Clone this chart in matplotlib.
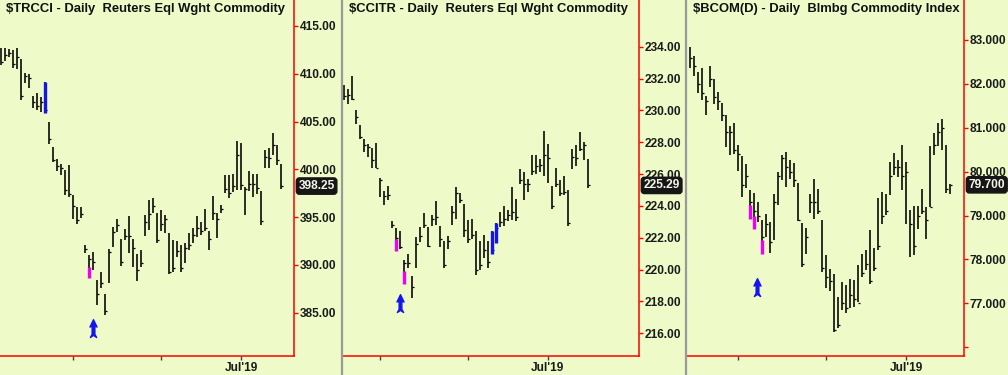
import matplotlib
matplotlib.use("Agg")
import numpy as np
from matplotlib import pyplot as plt
from matplotlib.path import Path
from matplotlib.lines import Line2D

plt.rcParams['font.family'] = ['Liberation Sans', 'DejaVu Sans']

BG = "#EEFAC8"
RED = "#FF0000"
BLUE = "#1414F0"
PINK = "#F000F0"

# ---- $TRCCI ----
trcci_title = "$TRCCI - Daily  Reuters Eql Wght Commodity"
trcci_high = [412.7, 412.7, 412.6, 412.5, 412.7, 411.5, 410.1, 410.0, 407.7, 408.0,
              407.6, 409.1, 405.0, 402.3, 401.1, 400.6, 399.9, 400.5, 397.3, 396.1,
              396.1, 392.1, 391.0, 391.4, 388.4, 389.3, 387.0, 391.7, 394.0, 394.8,
              392.7, 393.8, 395.1, 392.7, 391.1, 391.6, 395.2, 396.8, 397.0, 395.4,
              395.7, 395.2, 393.3, 392.6, 392.5, 392.1, 392.3, 393.3, 393.9, 395.1,
              394.5, 395.9, 393.5, 397.2, 395.4, 396.3, 399.4, 399.4, 399.5, 403.0,
              402.8, 398.2, 399.8, 399.5, 399.5, 397.7, 402.0, 402.2, 403.8, 402.6, 400.6]
trcci_low = [410.9, 411.3, 411.8, 410.6, 410.5, 407.3, 409.0, 408.5, 406.4, 406.2,
             406.0, 405.9, 402.7, 400.8, 399.8, 399.4, 397.3, 397.1, 394.8, 394.3,
             394.9, 391.2, 388.6, 389.5, 385.8, 387.6, 384.8, 388.1, 391.9, 393.4,
             389.9, 392.6, 391.2, 389.8, 388.3, 389.8, 393.0, 393.7, 395.4, 392.3,
             393.5, 393.3, 389.0, 389.3, 390.8, 389.3, 390.2, 391.6, 392.3, 392.9,
             393.1, 393.5, 391.6, 394.7, 392.8, 395.4, 397.5, 397.0, 397.6, 397.8,
             397.8, 395.2, 397.7, 397.1, 397.4, 394.2, 400.1, 400.1, 401.5, 400.5, 397.9]
trcci_close = [411.2, 412.0, 412.2, 411.0, 411.8, 407.7, 409.8, 409.6, 407.0, 406.6,
               407.0, 406.2, 403.2, 401.0, 400.4, 400.1, 397.8, 397.4, 396.2, 394.7,
               395.3, 391.7, 390.6, 390.3, 387.0, 388.1, 385.2, 391.3, 393.4, 394.2,
               390.3, 393.0, 393.0, 391.8, 389.5, 390.2, 394.5, 395.3, 396.2, 392.6,
               394.3, 394.8, 389.3, 389.7, 391.5, 389.7, 391.8, 392.1, 393.1, 393.9,
               393.5, 393.9, 392.7, 395.4, 394.8, 395.9, 397.9, 397.5, 398.3, 401.5,
               398.4, 397.9, 398.5, 398.5, 398.0, 394.6, 401.3, 401.2, 402.6, 401.0, 398.25]
trcci_marks = [(11, 409.1, 405.9, BLUE), (22, 389.8, 388.6, PINK)]
trcci_arrow = (23, 383.45)
trcci_yticks = [385, 390, 395, 400, 405, 410, 415]
trcci_xticks = [18, 40, 60]

# ---- $CCITR ----
ccitr_title = "$CCITR - Daily  Reuters Eql Wght Commodity"
ccitr_high = [231.58, 231.37, 232.15, 230.05, 229.06, 228.22, 227.91, 227.66, 227.95, 225.76,
              224.92, 225.28, 223.03, 222.61, 222.40, 220.60, 220.97, 219.61, 222.03, 222.70,
              223.54, 222.66, 223.45, 224.34, 222.76, 221.81, 222.09, 224.02, 225.22, 224.80,
              224.13, 223.12, 223.18, 222.40, 221.81, 222.19, 221.77, 222.40, 222.91, 223.60,
              224.02, 223.75, 225.18, 224.44, 226.33, 226.12, 225.70, 227.17, 227.17, 226.96,
              228.68, 227.91, 225.28, 226.39, 225.64, 225.91, 225.01, 227.59, 227.80, 228.64,
              228.01, 226.96]
ccitr_low = [230.64, 230.43, 230.68, 229.17, 228.22, 227.38, 227.07, 226.39, 226.39, 224.59,
             224.06, 224.38, 222.61, 221.18, 221.29, 219.08, 220.13, 218.24, 220.13, 221.71,
             222.61, 221.39, 222.76, 222.82, 221.39, 220.13, 221.29, 222.82, 223.18, 224.17,
             222.03, 221.65, 221.92, 219.67, 219.97, 220.72, 220.13, 221.0, 221.71, 222.70,
             222.76, 223.08, 223.12, 223.08, 225.39, 224.38, 224.86, 225.97, 226.01, 226.12,
             225.91, 225.43, 223.81, 225.18, 224.65, 224.71, 222.76, 226.33, 226.54, 227.45,
             226.86, 225.13]
ccitr_close = [230.9, 231.0, 230.7, 229.6, 228.3, 227.8, 227.7, 226.9, 226.4, 225.6,
               224.6, 224.7, 222.8, 222.0, 221.4, 220.4, 220.4, 218.9, 221.6, 222.1,
               222.8, 221.5, 223.2, 223.3, 221.9, 220.3, 221.8, 223.6, 224.8, 224.4,
               222.5, 221.9, 222.2, 220.0, 220.3, 221.2, 220.5, 221.2, 222.6, 223.0,
               223.2, 223.4, 223.6, 223.3, 225.6, 225.4, 225.4, 226.2, 226.5, 226.6,
               227.2, 227.0, 224.0, 225.4, 224.8, 224.9, 222.9, 227.1, 227.0, 227.6,
               227.8, 225.29]
ccitr_marks = [(13, 221.9, 221.18, PINK), (15, 219.92, 219.08, PINK),
               (37, 222.4, 221.0, BLUE), (38, 222.9, 221.7, BLUE)]
ccitr_arrow = (14, 217.87)
ccitr_yticks = [216, 218, 220, 222, 224, 226, 228, 230, 232, 234]
ccitr_xticks = [9, 31, 51]

# ---- $BCOM ----
bcom_title = "$BCOM(D) - Daily  Blmbg Commodity Index"
bcom_high = [82.83, 82.63, 82.28, 82.35, 81.72, 82.41, 82.10, 81.82, 81.57, 81.29,
             81.04, 81.11, 80.60, 80.35, 80.17, 79.59, 79.51, 79.31, 78.90, 79.04,
             78.85, 79.50, 79.99, 80.37, 80.45, 80.27, 80.20, 79.74, 78.83, 78.72,
             79.48, 79.84, 79.61, 78.89, 78.09, 77.78, 77.67, 77.14, 77.48, 77.42,
             77.55, 77.53, 77.88, 78.13, 78.22, 78.66, 78.26, 79.41, 79.53, 79.50,
             80.22, 80.43, 80.26, 80.60, 80.22, 79.12, 79.21, 79.21, 79.61, 79.19,
             80.58, 80.88, 81.10, 81.19, 80.60, 79.71]
bcom_low = [82.35, 82.18, 81.80, 81.64, 81.29, 81.92, 81.54, 81.40, 81.16, 80.56,
            80.37, 80.40, 80.01, 79.42, 79.63, 78.93, 78.70, 78.85, 78.13, 78.51,
            78.14, 78.45, 79.25, 79.82, 79.65, 79.84, 79.66, 78.87, 77.82, 78.13,
            79.05, 78.93, 79.04, 77.71, 77.35, 77.29, 76.34, 76.43, 76.85, 76.77,
            76.89, 76.91, 77.04, 77.59, 77.76, 77.44, 77.74, 78.22, 78.81, 79.02,
            79.46, 79.92, 79.88, 79.59, 78.81, 78.05, 78.11, 78.70, 79.04, 78.47,
            79.19, 80.37, 80.58, 80.50, 79.51, 79.48]
bcom_close = [82.6, 82.4, 82.0, 81.8, 81.6, 82.1, 81.7, 81.6, 81.3, 80.9,
              80.9, 80.5, 80.4, 79.7, 79.9, 79.3, 79.1, 79.0, 78.5, 78.8,
              78.4, 79.3, 79.9, 80.3, 80.1, 80.0, 79.8, 78.9, 77.9, 78.5,
              79.3, 79.3, 79.1, 77.8, 77.6, 77.5, 76.4, 76.5, 77.0, 76.9,
              77.2, 77.1, 77.0, 77.7, 77.9, 77.5, 77.8, 78.3, 79.0, 79.1,
              79.9, 80.1, 80.1, 79.9, 80.0, 78.8, 78.3, 79.0, 79.1, 78.9,
              79.2, 80.6, 80.9, 81.0, 79.6, 79.70]
bcom_marks = [(15, 79.25, 78.93, PINK), (16, 79.0, 78.7, PINK), (18, 78.45, 78.13, PINK)]
bcom_arrow = (16.8, 77.37)
bcom_yticks = [76, 77, 78, 79, 80, 81, 82, 83]
bcom_xticks = [12, 34, 54]

month_labels = ["", "", "Jul'19"]

# arrow marker: head, shaft and forked tail
arrow_path = Path([(0, 9), (3.6, 1.5), (1.4, 2.2), (1.4, -6), (3.2, -9.2), (0, -7),
                   (-3.2, -9.2), (-1.4, -6), (-1.4, 2.2), (-3.6, 1.5), (0, 9)],
                  closed=True)

W, H = 1008, 375
fig = plt.figure(figsize=(W / 100, H / 100), dpi=100, facecolor=BG)


def draw_panel(left, right, title, high, low, close, marks, arrow, yticks, ylim,
               xticks, xlim, fmt, hidden_ticks=()):
    ax = fig.add_axes([left / W, 19 / H, (right - left) / W, 356 / H])
    ax.set_facecolor(BG)
    x = np.arange(len(high))
    ax.vlines(x, low, high, color="black", lw=1.15)
    ax.hlines(close, x, x + 0.5, color="black", lw=0.9)
    for i, top, bot, col in marks:
        ax.vlines(i, bot, top, color=col, lw=2.4, zorder=3)
    ax.plot(arrow[0], arrow[1], marker=arrow_path, markersize=13, color=BLUE,
            markeredgecolor=BLUE, zorder=4)
    ax.set_xlim(*xlim)
    ax.set_ylim(*ylim)
    for s in ("left", "top"):
        ax.spines[s].set_visible(False)
    for s in ("right", "bottom"):
        ax.spines[s].set_color(RED)
        ax.spines[s].set_linewidth(1.1)
    ax.yaxis.tick_right()
    ax.set_yticks(yticks)
    ax.set_yticklabels(["" if t in hidden_ticks else fmt.format(t) for t in yticks])
    ax.tick_params(axis="y", colors=RED, labelcolor="#1a1a1a", length=3.2, width=1,
                   pad=1, labelsize=8.6)
    ax.set_xticks(xticks)
    ax.set_xticklabels(month_labels)
    ax.tick_params(axis="x", colors="#444444", labelcolor="#1a1a1a", length=3,
                   width=1, pad=1.5, labelsize=8.6)
    for lab in ax.get_yticklabels() + ax.get_xticklabels():
        lab.set_fontweight("bold")
    t = ax.annotate(title, xy=(0, 1), xycoords="axes fraction", xytext=(4, -2),
                    textcoords="offset points", ha="left", va="top",
                    fontsize=9.4, fontweight="bold", color="#111111")
    t.set_clip_on(True)
    ax.annotate(fmt.format(close[-1]), xy=(1, close[-1]),
                xycoords=ax.get_yaxis_transform(), xytext=(3.2, 0),
                textcoords="offset points", ha="left", va="center",
                fontsize=8.6, fontweight="bold", color="#F4F4E8",
                bbox=dict(boxstyle="round,pad=0.18,rounding_size=0.25",
                          fc="#161616", ec="#161616"),
                annotation_clip=False, zorder=5)
    return ax


draw_panel(0, 294, trcci_title, trcci_high, trcci_low, trcci_close, trcci_marks,
           trcci_arrow, trcci_yticks, (380.47, 417.72), trcci_xticks, (-0.33, 73.17),
           "{:.2f}")
draw_panel(343, 639, ccitr_title, ccitr_high, ccitr_low, ccitr_close, ccitr_marks,
           ccitr_arrow, ccitr_yticks, (214.57, 236.94), ccitr_xticks, (-0.17, 73.83),
           "{:.2f}")
draw_panel(687, 964, bcom_title, bcom_high, bcom_low, bcom_close, bcom_marks,
           bcom_arrow, bcom_yticks, (75.80, 83.91), bcom_xticks, (-0.75, 68.5),
           "{:.3f}", hidden_ticks=(76,))

for xd in (341.5, 685.5):
    fig.add_artist(Line2D([xd / W, xd / W], [0, 1], transform=fig.transFigure,
                          color="#9a9a9a", lw=1.6))

fig.savefig("out.png", dpi=100, facecolor=BG)
